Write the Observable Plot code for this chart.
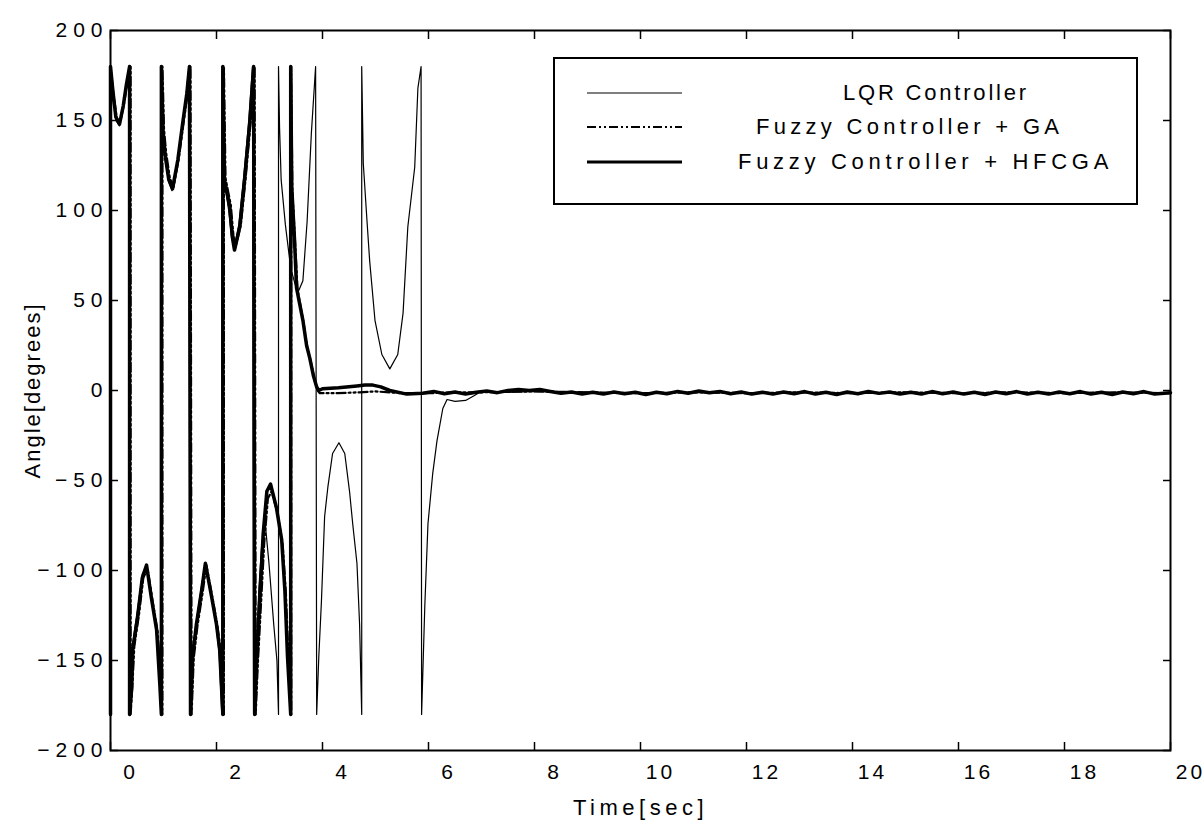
<!DOCTYPE html>
<html>
<head>
<meta charset="utf-8">
<script src="https://cdn.jsdelivr.net/npm/d3@7"></script>
<script src="https://cdn.jsdelivr.net/npm/@observablehq/plot@0.6"></script>
<style>
  html, body { margin: 0; padding: 0; background: #fff; }
  #wrap { position: relative; width: 1204px; height: 824px; }
  #wrap svg g[aria-label="y-axis tick label"] text { letter-spacing: 6px; }
  #wrap svg g[aria-label="x-axis tick label"] text { letter-spacing: 3px; }
  #wrap svg g[aria-label="x-axis label"] text { letter-spacing: 4.5px; font-size: 22px; }
  #wrap svg g[aria-label="y-axis label"] text { letter-spacing: 2px; font-size: 22px; }
  #legend { position: absolute; left: 553px; top: 57px; width: 585px; height: 148px;
    border: 2px solid #000; background: #fff; box-sizing: border-box;
    font-family: "Liberation Sans", Arial, sans-serif; font-size: 22px; color: #000; }
  #legend .row { position: absolute; height: 30px; line-height: 30px; white-space: nowrap; }
  #legend svg { position: absolute; }
</style>
</head>
<body>
<div id="wrap"></div>
<script>
// ---- data: pendulum angle (degrees) vs time (sec), wrapped to ±180 ----
const xTicks = [0, 2, 4, 6, 8, 10, 12, 14, 16, 18, 20];
const yTicks = [-200, -150, -100, -50, 0, 50, 100, 150, 200];
const seriesNames = ["LQR Controller", "Fuzzy Controller + GA", "Fuzzy Controller + HFCGA"];

const lqr = [
  [0,180],[0.04,168],[0.10,150],[0.17,147],[0.24,157],[0.30,170],[0.35,180],[0.35,-180],
  [0.39,-160],[0.42,-140],[0.51,-122],[0.60,-102],[0.67,-98],[0.76,-112],[0.86,-132],[0.92,-160],[0.95,-180],[0.95,180],
  [0.98,144],[1.02,130],[1.10,116],[1.16,111],[1.26,126],[1.35,146],[1.43,165],[1.48,180],[1.50,-180],
  [1.54,-148],[1.61,-130],[1.71,-110],[1.78,-97],[1.90,-114],[1.99,-130],[2.05,-146],[2.10,-180],[2.10,180],
  [2.14,118],[2.23,100],[2.28,86],[2.33,79],[2.42,92],[2.51,118],[2.61,150],[2.68,180],[2.70,-180],
  [2.74,-150],[2.80,-110],[2.85,-87],[2.92,-74],[2.99,-96],[3.08,-130],[3.14,-150],[3.17,-180],[3.17,180],
  [3.19,146],[3.22,117],[3.30,92],[3.40,68],[3.53,54],[3.63,61],[3.71,94],[3.79,143],[3.87,180],[3.89,-180],
  [3.93,-148],[3.98,-117],[4.04,-70],[4.10,-54],[4.19,-35],[4.31,-29],[4.42,-35],[4.51,-56],[4.57,-74],[4.65,-96],[4.70,-130],[4.74,-180],[4.74,180],
  [4.77,126],[4.84,94],[4.89,72],[4.99,39],[5.12,20],[5.27,12],[5.42,20],[5.52,43],[5.61,91],[5.74,124],[5.80,168],[5.86,180],[5.87,-180],
  [5.93,-120],[5.99,-74],[6.08,-46],[6.16,-28],[6.27,-10],[6.35,-5],[6.5,-6],[6.7,-5.5],[6.85,-3],[6.97,-1],
  [7.5,-1],[8,-0.5],[9,-1],[10,-1.5],[11,-1],[12,-1.5],[13,-1],[14,-1.5],[15,-1],[16,-1.5],[17,-1],[18,-1.5],[19,-1],[20,-1.5]
];

const ga = [
  [0,-180],[0,180],[0.05,166],[0.12,151],[0.19,150],[0.26,160],[0.32,172],[0.38,180],[0.38,-180],
  [0.42,-160],[0.45,-142],[0.54,-124],[0.62,-104],[0.70,-99],[0.79,-116],[0.89,-134],[0.95,-162],[0.98,-180],[0.98,180],
  [1.01,145],[1.05,132],[1.12,118],[1.19,113],[1.29,129],[1.38,149],[1.46,166],[1.51,180],[1.53,-180],
  [1.57,-149],[1.64,-131],[1.74,-112],[1.81,-97],[1.93,-116],[2.02,-131],[2.08,-145],[2.14,-180],[2.14,180],
  [2.17,118],[2.27,103],[2.32,86],[2.36,80],[2.46,92],[2.55,118],[2.65,151],[2.72,180],[2.74,-180],
  [2.78,-152],[2.83,-124],[2.90,-85],[2.97,-60],[3.04,-56],[3.15,-68],[3.25,-86],[3.31,-113],[3.36,-150],[3.41,-180],[3.41,180],
  [3.43,112],[3.48,84],[3.53,56],[3.64,38],[3.71,24],[3.78,16],[3.85,6],[3.91,0],[3.95,-1.5],
  [4.3,-1.5],[4.7,-1],[5.0,-0.5],[5.5,-1.5],[6,-1.5],[6.5,-1],[7,-1],[8,-0.5],[9,-1],[10,-1.5],[11,-1],[12,-1.5],
  [13,-1],[14,-1.5],[15,-1],[16,-1.5],[17,-1],[18,-1.5],[19,-1],[20,-1.5]
];

const hfcga = [
  [0,-180],[0,180],[0.04,168],[0.10,152],[0.17,148],[0.24,158],[0.30,170],[0.36,180],[0.36,-180],
  [0.40,-165],[0.42,-144],[0.51,-126],[0.60,-104],[0.68,-97],[0.77,-115],[0.87,-133],[0.93,-163],[0.96,-180],[0.96,180],
  [0.99,144],[1.03,131],[1.10,117],[1.17,112],[1.27,128],[1.36,148],[1.44,165],[1.49,180],[1.51,-180],
  [1.55,-148],[1.62,-130],[1.72,-111],[1.79,-96],[1.91,-115],[2.00,-130],[2.06,-144],[2.12,-180],[2.12,180],
  [2.15,117],[2.25,102],[2.30,85],[2.34,78],[2.44,91],[2.53,117],[2.63,150],[2.70,180],[2.72,-180],
  [2.76,-150],[2.81,-120],[2.88,-80],[2.95,-56],[3.02,-52],[3.13,-65],[3.23,-83],[3.29,-111],[3.34,-148],[3.40,-180],[3.40,180],
  [3.42,113],[3.47,85],[3.51,57],[3.63,39],[3.70,25],[3.76,18],[3.83,8],[3.89,2],[3.93,0],
  [4.0,1],[4.3,1.5],[4.65,2.5],[4.8,3],[4.95,3],[5.1,2],[5.27,0],[5.59,-2],[5.89,-1.5],
  [6.1,-0.5],[6.3,-1.8],[6.5,-0.8],[6.7,-2],[6.9,-1],[7.1,-0.3],[7.3,-1.2],[7.5,0],[7.7,0.5],[7.9,0],[8.1,0.5],[8.3,-0.5],
  [8.5,-1.5],[8.7,-0.8],[8.9,-2],[9.1,-1],[9.3,-2],[9.5,-0.8],[9.7,-1.8],[9.9,-1],[10.1,-2.2],[10.3,-1],[10.5,-1.8],
  [10.7,-0.5],[10.9,-1.5],[11.1,-0.3],[11.3,-1.2],[11.5,-0.5],[11.7,-1.8],[11.9,-0.8],[12.1,-2],[12.3,-1],[12.5,-2],
  [12.7,-0.8],[12.9,-1.8],[13.1,-0.6],[13.3,-2],[13.5,-1],[13.7,-2.2],[13.9,-0.8],[14.1,-1.8],[14.3,-0.6],[14.5,-1.6],
  [14.7,-0.8],[14.9,-2],[15.1,-1],[15.3,-2],[15.5,-0.6],[15.7,-1.8],[15.9,-0.8],[16.1,-2],[16.3,-1],[16.5,-2.2],
  [16.7,-0.8],[16.9,-1.8],[17.1,-0.6],[17.3,-2],[17.5,-1],[17.7,-2],[17.9,-0.8],[18.1,-1.8],[18.3,-0.6],[18.5,-2],
  [18.7,-1],[18.9,-2.2],[19.1,-0.8],[19.3,-1.8],[19.5,-0.6],[19.7,-2],[20,-1.2]
];

// ---- build table ----
const rows = [];
[[lqr, seriesNames[0]], [ga, seriesNames[1]], [hfcga, seriesNames[2]]].forEach(([arr, name]) => {
  arr.forEach(([t, a]) => rows.push({t, a, s: name}));
});
const bySeries = name => rows.filter(d => d.s === name);

const font = '"Liberation Sans", Arial, sans-serif';

const chart = Plot.plot({
  width: 1204,
  height: 824,
  marginLeft: 110,
  marginRight: 34,
  marginTop: 30,
  marginBottom: 74,
  style: {fontFamily: font, fontSize: "21px", color: "#000", background: "#fff", overflow: "visible"},
  x: {domain: [0, 20], label: null},
  y: {domain: [-200, 200], label: null},
  marks: [
    Plot.line(bySeries(seriesNames[0]), {x: "t", y: "a", stroke: "#000", strokeWidth: 1.2}),
    Plot.line(bySeries(seriesNames[1]), {x: "t", y: "a", stroke: "#000", strokeWidth: 2.2, strokeDasharray: "9,3,2,3,2,3"}),
    Plot.line(bySeries(seriesNames[2]), {x: "t", y: "a", stroke: "#000", strokeWidth: 3.5}),
    // inward ticks on all four sides
    Plot.axisX({ticks: xTicks, anchor: "bottom", tickSize: -8, tickFormat: () => "", label: null, strokeWidth: 1.5}),
    Plot.axisX({ticks: xTicks, anchor: "top", tickSize: -8, tickFormat: () => "", label: null, strokeWidth: 1.5}),
    Plot.axisY({ticks: yTicks, anchor: "left", tickSize: -8, tickFormat: () => "", label: null, strokeWidth: 1.5}),
    Plot.axisY({ticks: yTicks, anchor: "right", tickSize: -8, tickFormat: () => "", label: null, strokeWidth: 1.5}),
    // labels
    Plot.axisX({ticks: xTicks, anchor: "bottom", tickSize: 0, tickPadding: 14, dx: 20,
      label: "Time[sec]", labelAnchor: "center", labelOffset: 64, labelArrow: "none"}),
    Plot.axisY({ticks: yTicks, anchor: "left", tickSize: 0, tickPadding: 2,
      label: "Angle[degrees]", labelAnchor: "center", labelOffset: 86, labelArrow: "none"}),
    Plot.frame({stroke: "#000", strokeWidth: 2})
  ]
});

const wrap = document.getElementById("wrap");
wrap.appendChild(chart);

// ---- legend (inside the plot area, upper right) ----
const legend = document.createElement("div");
legend.id = "legend";
const entries = [
  {name: seriesNames[0], top: 19, textLeft: 288, spacing: 2.8, width: 1.2, dash: null},
  {name: seriesNames[1], top: 53, textLeft: 201, spacing: 4.3, width: 2, dash: "9,3,2,3,2,3"},
  {name: seriesNames[2], top: 88, textLeft: 183, spacing: 4.7, width: 3, dash: null}
];
entries.forEach(e => {
  const svgNS = "http://www.w3.org/2000/svg";
  const s = document.createElementNS(svgNS, "svg");
  s.setAttribute("width", 100); s.setAttribute("height", 30);
  s.style.left = "30px"; s.style.top = e.top + "px";
  const l = document.createElementNS(svgNS, "line");
  l.setAttribute("x1", 2); l.setAttribute("x2", 97); l.setAttribute("y1", 15); l.setAttribute("y2", 15);
  l.setAttribute("stroke", "#000"); l.setAttribute("stroke-width", e.width);
  if (e.dash) l.setAttribute("stroke-dasharray", e.dash);
  s.appendChild(l);
  legend.appendChild(s);
  const t = document.createElement("div");
  t.className = "row";
  t.style.left = e.textLeft + "px"; t.style.top = e.top + "px";
  t.style.letterSpacing = e.spacing + "px";
  t.textContent = e.name;
  legend.appendChild(t);
});
wrap.appendChild(legend);
</script>
</body>
</html>
